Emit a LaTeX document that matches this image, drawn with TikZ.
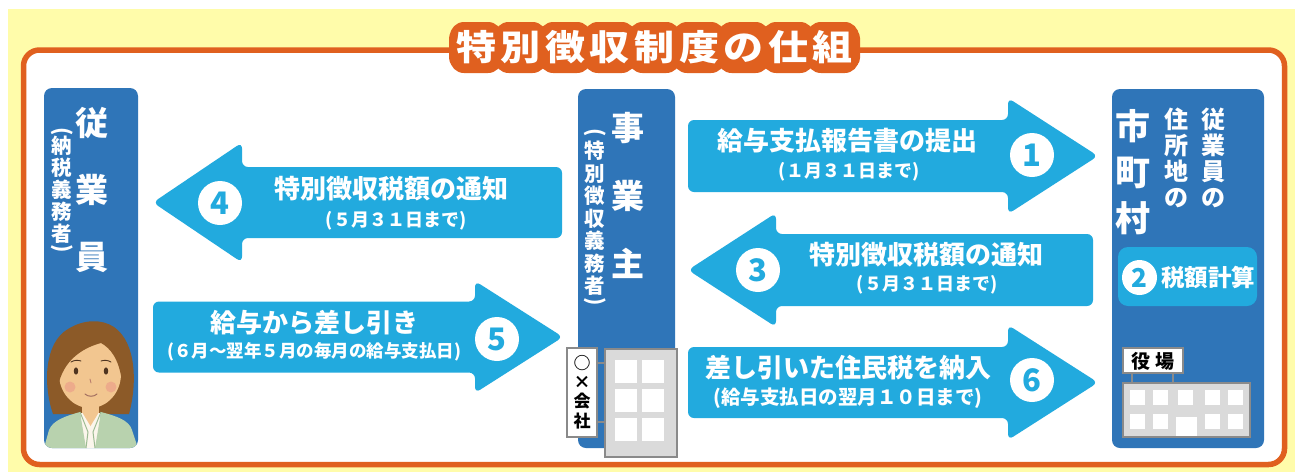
\documentclass[tikz,border=0pt]{standalone}
\usepackage{fontspec}
\usepackage{graphicx}
\newfontfamily\jp{Noto Sans CJK JP}
\definecolor{bgyellow}{HTML}{FFFCAA}
\definecolor{frameorange}{HTML}{E0601F}
\definecolor{boxblue}{HTML}{2F75B8}
\definecolor{arrowblue}{HTML}{22AADE}
\definecolor{bldgray}{HTML}{DADADA}
\definecolor{bldedge}{HTML}{8A8A8A}
\definecolor{hairbrown}{HTML}{8C5A28}
\definecolor{skin}{HTML}{F2C690}
\definecolor{cheekpink}{HTML}{EBA08A}
\definecolor{jacketgreen}{HTML}{B8D2AE}
\definecolor{lapelgreen}{HTML}{9DBB93}
\definecolor{eyebrown}{HTML}{4E3420}
\definecolor{shirtwhite}{HTML}{FBF6EC}

% block arrow: #1 tail x, #2 head base x, #3 tip x, #4 centre y, #5 half shaft, #6 half head
\newcommand\blockarrow[6]{%
  \fill[arrowblue,rounded corners=6pt]
    (#3,#4) -- (#2,#4-#6) -- (#2,#4-#5) -- (#1,#4-#5)
    -- (#1,#4+#5) -- (#2,#4+#5) -- (#2,#4+#6) -- cycle;}

\newcommand\titlechars{特\kern4.6pt 別\kern4.6pt 徴\kern4.6pt 収\kern4.6pt 制\kern4.6pt 度\kern4.6pt の\kern4.6pt 仕\kern4.6pt 組}
% vertical-writing parentheses
\newcommand\vlp{\rotatebox{-90}{(}}
\newcommand\vrp{\rotatebox{-90}{)}}

\begin{document}
\begin{tikzpicture}[x=1pt,y=-1pt,
  partybox/.style={fill=boxblue,rounded corners=8pt,inner sep=0pt},
  vtext/.style={align=center,inner sep=0pt,text=white},
  paren/.style={inner sep=0pt,text=white,font=\jp\bfseries\fontsize{21}{21}\selectfont},
  numcircle/.style={circle,fill=white,inner sep=0pt,minimum size=44pt,text=arrowblue,
    font=\jp\bfseries\fontsize{31}{31}\selectfont},
  mainlabel/.style={inner sep=0pt,text=white,font=\jp\bfseries\fontsize{26}{26}\selectfont},
  sublabel/.style={inner sep=0pt,text=white,font=\jp\bfseries\fontsize{18}{18}\selectfont},
  titleglyphs/.style={inner sep=0pt,font=\jp\bfseries\fontsize{40}{40}\selectfont},
  signtext/.style={inner sep=0pt,text=black,font=\jp\bfseries\fontsize{17}{19}\selectfont,align=center},
  window/.style={fill=white},
  bldg/.style={fill=bldgray,draw=bldedge,line width=1.5pt},
]
\useasboundingbox (0,0) rectangle (1295,472);
\fill[white] (0,0) rectangle (1295,472);
\fill[bgyellow] (8,9) rectangle (1295,472);
\draw[frameorange,line width=5.5pt,fill=white,rounded corners=16pt] (23.5,50) rectangle (1284.5,464.5);

% title plate: one rounded bump per character on a common band
\fill[frameorange,rounded corners=10pt] (449,28) rectangle (860,68);
\foreach \i in {0,...,8}{
  \fill[frameorange,rounded corners=14pt] (450+44.6*\i,22) rectangle ++(52,51);
}
\node[titleglyphs,text=white] (title) at (654.4,47.5) {\scalebox{1}[0.88]{\titlechars}};

% the three parties
\node[partybox,minimum width=94pt,minimum height=360pt] (employee) at (91,268) {};
\node[partybox,minimum width=97pt,minimum height=359pt] (employer) at (626.5,268.5) {};
\node[partybox,minimum width=152pt,minimum height=359pt] (city) at (1188,268.5) {};

% employee
\node[vtext,font=\jp\bfseries\fontsize{33}{67}\selectfont] (emp-name) at (92,190) {従\\業\\員};
\node[vtext,font=\jp\bfseries\fontsize{20.5}{22}\selectfont] (emp-note) at (62,190) {納\\税\\義\\務\\者};
\node[paren] (emp-lp) at (62,132) {\vlp};
\node[paren] (emp-rp) at (62,249) {\vrp};

% employee portrait
\begin{scope}
\clip[rounded corners=8pt] (44,88) rectangle (138,448);
\fill[hairbrown] (53,414) .. controls (43,385) and (44,343) .. (68,329)
  .. controls (84,319) and (102,319) .. (114,327)
  .. controls (137,343) and (137,385) .. (129,414) -- cycle;
\fill[skin] (82,400) rectangle (99,420);
\fill[skin] (90,374) ellipse [x radius=31, y radius=34];
\fill[hairbrown] (59,382) .. controls (56,342) and (74,326) .. (91,326)
  .. controls (108,326) and (125,342) .. (122,382)
  .. controls (119,358) and (110,348) .. (101,343)
  .. controls (86,347) and (66,357) .. (59,382) -- cycle;
\fill[cheekpink,opacity=0.7] (70,387) circle (5.5);
\fill[cheekpink,opacity=0.7] (111,387) circle (5.5);
\fill[eyebrown] (76,371) ellipse [x radius=2.2, y radius=3.6];
\fill[eyebrown] (106,371) ellipse [x radius=2.2, y radius=3.6];
\draw[eyebrown,line width=0.9pt,line cap=round] (71,362) .. controls (74,360) and (78,360) .. (81,361);
\draw[eyebrown,line width=0.9pt,line cap=round] (101,361) .. controls (104,360) and (108,360) .. (111,362);
\draw[cheekpink!80!black,line width=0.9pt,line cap=round] (90,379) -- (91,383);
\draw[cheekpink!70!black,line width=1pt,line cap=round] (85,394) .. controls (88,397) and (94,397) .. (97,394);
\fill[shirtwhite] (80,413) -- (101,413) -- (97,448) -- (84,448) -- cycle;
\fill[skin] (82,412) -- (99,412) -- (90.5,426) -- cycle;
\fill[jacketgreen] (44,448) -- (49,430) .. controls (53,420) and (66,416) .. (80,412)
  -- (86,448) -- cycle;
\fill[jacketgreen] (101,412) .. controls (116,416) and (129,420) .. (132,430)
  -- (138,448) -- (95,448) -- cycle;
\draw[lapelgreen,line width=1pt] (80,412) -- (88,432) -- (86,448);
\draw[lapelgreen,line width=1pt] (101,412) -- (93,432) -- (95,448);
\end{scope}

% employer
\node[vtext,font=\jp\bfseries\fontsize{33}{68}\selectfont] (emr-name) at (628,195) {事\\業\\主};
\node[vtext,font=\jp\bfseries\fontsize{20.5}{22.5}\selectfont] (emr-note) at (595,218.5) {特\\別\\徴\\収\\義\\務\\者};
\node[paren] (emr-lp) at (595,133) {\vlp};
\node[paren] (emr-rp) at (595,302) {\vrp};

% company building
\node[bldg,minimum width=72pt,minimum height=108pt,inner sep=0pt] (office) at (641,403) {};
\foreach \cx in {615,642}{
  \foreach \cy in {360,389,418}{
    \fill[window] (\cx,\cy) rectangle ++(22,23);
  }
}
\node[fill=white,draw=bldedge,line width=1.2pt,minimum width=30pt,minimum height=89pt,inner sep=0pt] (sign) at (582,392.5) {};
\node[signtext,font=\jp\bfseries\fontsize{17}{19.2}\selectfont] (signtext) at (582,392) {○\\×\\会\\社};
\draw[bldedge,line width=1.5pt] (sign.east |- 0,363) -- (office.west |- 0,363);
\draw[bldedge,line width=1.5pt] (sign.east |- 0,422) -- (office.west |- 0,422);

% municipality
\node[vtext,font=\jp\bfseries\fontsize{35}{46}\selectfont] (city-name) at (1133,172) {市\\町\\村};
\node[vtext,font=\jp\bfseries\fontsize{24}{26}\selectfont] (city-addr) at (1176,158) {住\\所\\地\\の};
\node[vtext,font=\jp\bfseries\fontsize{24}{26}\selectfont] (city-emp) at (1213,158) {従\\業\\員\\の};
\node[fill=arrowblue,rounded corners=10pt,minimum width=139pt,minimum height=59pt,inner sep=0pt] (calcbox) at (1187.5,276.5) {};
\node[numcircle,minimum size=35pt,font=\jp\bfseries\fontsize{26}{26}\selectfont] (n2) at (1139.5,277.5) {2};
\node[mainlabel,font=\jp\bfseries\fontsize{23.5}{24}\selectfont] (calc) at (1208,277) {税額計算};

% town hall
\node[bldg,minimum width=127pt,minimum height=54pt,inner sep=0pt] (hall) at (1186.5,410) {};
\foreach \wx in {1130,1153,1178,1205,1228}{
  \fill[window] (\wx,390) rectangle ++(15,15);
}
\foreach \wx in {1130,1153,1205,1228}{
  \fill[window] (\wx,414) rectangle ++(15,15);
}
\fill[window] (1176,417) rectangle (1197,436);
\node[fill=white,draw=bldedge,line width=1.2pt,minimum width=60pt,minimum height=25pt,inner sep=0pt] (hallsign) at (1153,360.5) {};
\draw[bldedge,line width=2pt] (hallsign.south -| 1132,0) -- (hall.north -| 1132,0);
\draw[bldedge,line width=2pt] (hallsign.south -| 1173,0) -- (hall.north -| 1173,0);
\node[signtext,font=\jp\bfseries\fontsize{19}{19}\selectfont] (halltext) at (1153,361) {役\kern5pt 場};

% flows
\blockarrow{688}{1008}{1098}{156}{36}{58}
\blockarrow{1093}{776}{688}{270}{36}{57}
\blockarrow{562}{242}{153}{202.5}{35.5}{60}
\blockarrow{153}{475}{563}{337}{35.5}{56}
\blockarrow{688}{1008}{1098}{382.5}{35.5}{57.5}

\node[numcircle] (n1) at (1032,155) {1};
\node[numcircle] (n3) at (758,270) {3};
\node[numcircle] (n4) at (220,203) {4};
\node[numcircle] (n5) at (497,339) {5};
\node[numcircle] (n6) at (1032,380) {6};

\node[mainlabel] (l1) at (847,141) {給与支払報告書の提出};
\node[sublabel] (s1) at (849,172) {(１月３１日まで)};
\node[mainlabel] (l3) at (926,255) {特別徴収税額の通知};
\node[sublabel] (s3) at (927,285) {(５月３１日まで)};
\node[mainlabel] (l4) at (391,189) {特別徴収税額の通知};
\node[sublabel] (s4) at (396,221) {(５月３１日まで)};
\node[mainlabel] (l5) at (314,323) {給与から差し引き};
\node[sublabel,font=\jp\bfseries\fontsize{17.5}{18}\selectfont] (s5) at (314,352) {(６月〜翌年５月の毎月の給与支払日)};
\node[mainlabel] (l6) at (848,368) {差し引いた住民税を納入};
\node[sublabel,font=\jp\bfseries\fontsize{19.5}{20}\selectfont] (s6) at (848,398) {(給与支払日の翌月１０日まで)};
\end{tikzpicture}
\end{document}
